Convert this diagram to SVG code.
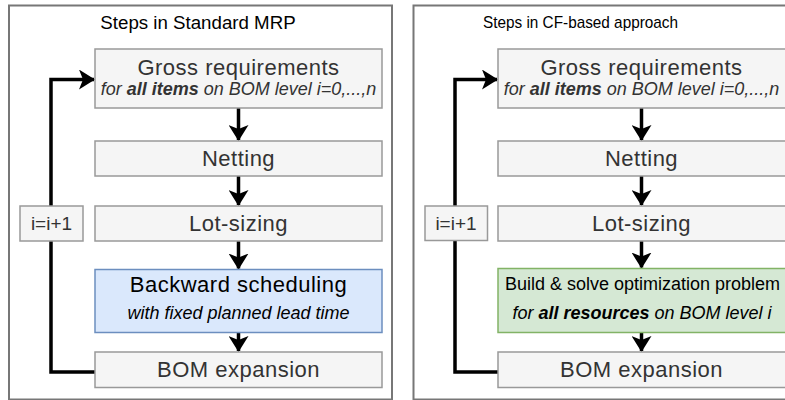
<svg xmlns="http://www.w3.org/2000/svg" width="785" height="400" viewBox="0 0 785 400">
<style>
.panel{fill:#fff;stroke:#777;stroke-width:2}
.box{fill:#f5f5f5;stroke:#999;stroke-width:1.5}
.blue{fill:#dae8fc;stroke:#6c8ebf;stroke-width:1.5}
.green{fill:#d5e8d4;stroke:#82b366;stroke-width:1.5}
text{font-family:"Liberation Sans",Arial,sans-serif;text-anchor:middle}
.title{font-size:18.7px;fill:#000}
.title2{font-size:17px;fill:#000}
.main{font-size:22px;letter-spacing:0.5px;fill:#333}
.mainb{font-size:22px;letter-spacing:0.5px;fill:#000}
.sub{font-size:18px;font-style:italic;fill:#333}
.subb{font-size:18px;font-style:italic;fill:#000}
.plain{font-size:18px;fill:#000}
.small{font-size:19px;fill:#333}
.line{fill:none;stroke:#000;stroke-width:3.5}
</style>
<defs>
<marker id="arr" viewBox="0 0 16 20" refX="15" refY="10" markerWidth="16" markerHeight="20" markerUnits="userSpaceOnUse" orient="auto">
<path d="M0,0 L16,10 L0,20 L4,10 Z" fill="#000"/>
</marker>
</defs>
<g id="panel-left">
<rect class="panel" x="9" y="5.5" width="383" height="394"/>
<text class="title" x="198" y="29">Steps in Standard MRP</text>
</g>
<g id="panel-right">
<rect class="panel" x="413.5" y="5.5" width="400" height="394"/>
<text class="title2" x="580.5" y="28" textLength="195" lengthAdjust="spacingAndGlyphs">Steps in CF-based approach</text>
</g>
<g id="connectors">
<line class="line" x1="238.5" y1="108" x2="238.5" y2="140" marker-end="url(#arr)"/>
<line class="line" x1="238.5" y1="176" x2="238.5" y2="205" marker-end="url(#arr)"/>
<line class="line" x1="238.5" y1="241" x2="238.5" y2="268.5" marker-end="url(#arr)"/>
<line class="line" x1="238.5" y1="332.5" x2="238.5" y2="351" marker-end="url(#arr)"/>
<polyline class="line" points="95,372 51,372 51,79.5 94,79.5" marker-end="url(#arr)"/>
<line class="line" x1="641.5" y1="108" x2="641.5" y2="140" marker-end="url(#arr)"/>
<line class="line" x1="641.5" y1="176" x2="641.5" y2="205" marker-end="url(#arr)"/>
<line class="line" x1="641.5" y1="241" x2="641.5" y2="267.5" marker-end="url(#arr)"/>
<line class="line" x1="641.5" y1="332.5" x2="641.5" y2="351" marker-end="url(#arr)"/>
<polyline class="line" points="498,372 455,372 455,79.5 497,79.5" marker-end="url(#arr)"/>
</g>
<g id="L-gross">
<rect class="box" x="95" y="49" width="287" height="59"/>
<text class="main" x="238.5" y="75">Gross requirements</text>
<text class="sub" x="238.5" y="94.5">for <tspan font-weight="bold">all items</tspan> on BOM level i=0,...,n</text>
</g>
<g id="L-netting">
<rect class="box" x="95" y="141" width="287" height="35"/>
<text class="main" x="238.5" y="166">Netting</text>
</g>
<g id="L-lotsizing">
<rect class="box" x="95" y="206" width="287" height="35"/>
<text class="main" x="238.5" y="231">Lot-sizing</text>
</g>
<g id="L-backward">
<rect class="blue" x="95" y="269.5" width="287" height="63"/>
<text class="mainb" x="238.5" y="292">Backward scheduling</text>
<text class="subb" x="238.5" y="318.5">with fixed planned lead time</text>
</g>
<g id="L-bom">
<rect class="box" x="95" y="352" width="287" height="35.5"/>
<text class="main" x="238.5" y="377">BOM expansion</text>
</g>
<g id="L-inc">
<rect class="box" x="20" y="206" width="63" height="35"/>
<text class="small" x="51.5" y="230">i=i+1</text>
</g>
<g id="R-gross">
<rect class="box" x="498" y="49" width="300" height="59"/>
<text class="main" x="641.5" y="75">Gross requirements</text>
<text class="sub" x="641.5" y="94.5">for <tspan font-weight="bold">all items</tspan> on BOM level i=0,...,n</text>
</g>
<g id="R-netting">
<rect class="box" x="498" y="141" width="300" height="35"/>
<text class="main" x="641.5" y="166">Netting</text>
</g>
<g id="R-lotsizing">
<rect class="box" x="498" y="206" width="300" height="35"/>
<text class="main" x="641.5" y="231">Lot-sizing</text>
</g>
<g id="R-optimize">
<rect class="green" x="498" y="268.5" width="300" height="64"/>
<text class="plain" x="642.5" y="289.5">Build &amp; solve optimization problem</text>
<text class="subb" x="642" y="318.5">for <tspan font-weight="bold">all resources</tspan> on BOM level i</text>
</g>
<g id="R-bom">
<rect class="box" x="498" y="352" width="300" height="35.5"/>
<text class="main" x="641.5" y="377">BOM expansion</text>
</g>
<g id="R-inc">
<rect class="box" x="425" y="206" width="62.5" height="34.5"/>
<text class="small" x="456" y="230">i=i+1</text>
</g>
</svg>
